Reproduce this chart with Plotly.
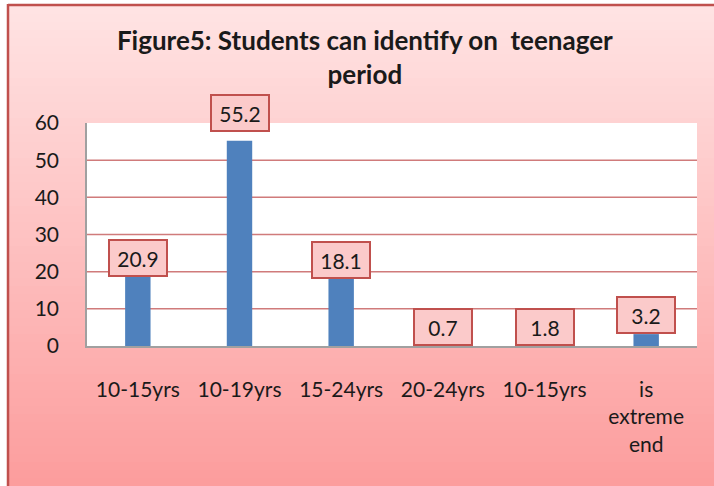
import plotly.graph_objects as go

# Data
categories = ["10-15yrs", "10-19yrs", "15-24yrs", "20-24yrs", "10-15yrs", "is<br>extreme<br>end"]
values = [20.9, 55.2, 18.1, 0.7, 1.8, 3.2]
y_ticks = [0, 10, 20, 30, 40, 50, 60]

# label nudges (px) so the boxes sit where the original put them
label_shift = [-9, 9, 0, -3, -7, 0]

W, H = 714, 486
ML, MR, MT, MB = 87, 17, 123, 140
FONT = "Lato"
x_pos = list(range(len(categories)))


# pixel -> paper coords (paper 0..1 is the plot area, not the whole figure)
def px2x(px):
    return (px - ML) / (W - ML - MR)


def py2y(py):
    return (H - MB - py) / (H - MT - MB)


fig = go.Figure()
fig.add_trace(go.Bar(x=x_pos, y=values, marker=dict(color="#4f81bd", line=dict(width=0)),
                     hoverinfo="skip", showlegend=False))

shapes = []
# pink background gradient (stacked strips)
top_c = (255, 227, 227)
bot_c = (252, 157, 157)
n = 60
top_px, bot_px = 6, H
for i in range(n):
    t = i / (n - 1)
    c = tuple(round(top_c[k] + (bot_c[k] - top_c[k]) * t) for k in range(3))
    a = top_px + (bot_px - top_px) * i / n
    b = top_px + (bot_px - top_px) * (i + 1) / n + 1
    shapes.append(dict(type="rect", xref="paper", yref="paper", x0=px2x(9), x1=px2x(W), y0=py2y(b), y1=py2y(a),
                       fillcolor="rgb(%d,%d,%d)" % c, line=dict(width=0), layer="below"))
# frame lines (left / top)
shapes.append(dict(type="line", xref="paper", yref="paper", x0=px2x(8), x1=px2x(8), y0=py2y(H), y1=py2y(4),
                   line=dict(color="#c0504d", width=2.5), layer="below"))
shapes.append(dict(type="line", xref="paper", yref="paper", x0=px2x(8), x1=px2x(W), y0=py2y(5), y1=py2y(5),
                   line=dict(color="#c0504d", width=2.5), layer="below"))
# white plot area
shapes.append(dict(type="rect", xref="paper", yref="paper", x0=0, x1=1, y0=0, y1=1,
                   fillcolor="white", line=dict(width=0), layer="below"))
# gridlines (not at 0 or top)
for v in y_ticks[1:-1]:
    shapes.append(dict(type="line", xref="paper", yref="y", x0=0, x1=1, y0=v, y1=v,
                       line=dict(color="#d07b7b", width=1.5), layer="below"))

annotations = []
for xi, v, dy in zip(x_pos, values, label_shift):
    annotations.append(dict(x=xi, y=v, xref="x", yref="y", text=str(v), showarrow=False,
                            yanchor="bottom", yshift=dy,
                            font=dict(family=FONT, size=21, color="#1a1a1a"),
                            bgcolor="#fbcaca", bordercolor="#c0504d", borderwidth=2,
                            borderpad=1, width=54, height=32))

fig.update_layout(
    width=W, height=H,
    margin=dict(l=ML, r=MR, t=MT, b=MB),
    paper_bgcolor="white",
    plot_bgcolor="rgba(0,0,0,0)",
    font=dict(family=FONT, size=21, color="#1a1a1a"),
    title=dict(text="<b>Figure5: Students can identify on  teenager<br>period</b>",
               x=0.511, xanchor="center", y=1 - 50 / H, yanchor="top",
               font=dict(family=FONT, size=26, color="#1a1a1a")),
    bargap=0.75,
    shapes=shapes,
    annotations=annotations,
    xaxis=dict(tickvals=x_pos, ticktext=categories, range=[-0.5, len(categories) - 0.5],
               showgrid=False, zeroline=False, showline=True, linecolor="#a0a0a0", linewidth=1.5,
               ticks="", ticklabelstandoff=24, tickfont=dict(family=FONT, size=21, color="#1a1a1a")),
    yaxis=dict(tickvals=y_ticks, range=[0, 60], showgrid=False, zeroline=False,
               showline=True, linecolor="#a0a0a0", linewidth=1.5, ticks="",
               ticklabelstandoff=22, tickfont=dict(family=FONT, size=21, color="#1a1a1a")),
)

fig.write_html("out.html", config={"displayModeBar": False},
               post_script="document.body.style.margin='0px';")
